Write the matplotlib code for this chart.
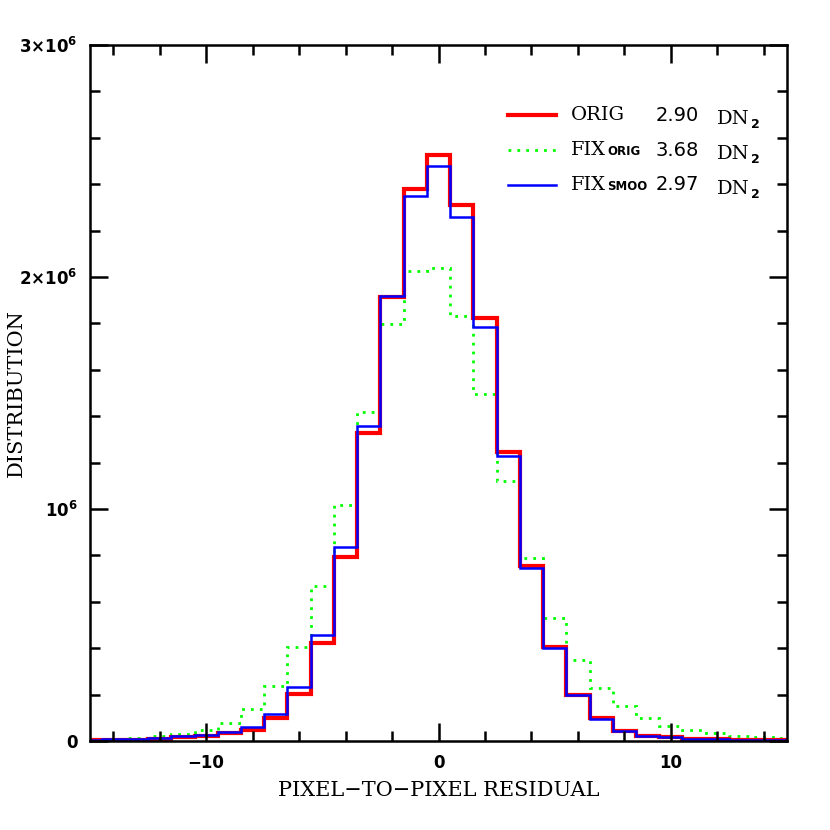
import numpy as np
import matplotlib
matplotlib.use("Agg")
import matplotlib.pyplot as plt
from matplotlib.lines import Line2D
from matplotlib.ticker import MultipleLocator, FixedLocator

# bin centres -15 .. 15 (width 1)
centers = list(range(-15, 16))

orig = [0.003, 0.004, 0.006, 0.010, 0.016, 0.022, 0.033, 0.047, 0.099, 0.203, 0.422, 0.793, 1.328, 1.914, 2.379, 2.526,
        2.310, 1.823, 1.246, 0.754, 0.406, 0.197, 0.098, 0.044, 0.023, 0.016, 0.010, 0.008, 0.006, 0.005, 0.004]
fix_orig = [0.007, 0.010, 0.014, 0.020, 0.030, 0.047, 0.079, 0.138, 0.238, 0.406, 0.668, 1.017, 1.419, 1.796, 2.027, 2.037,
            1.833, 1.494, 1.121, 0.790, 0.531, 0.349, 0.227, 0.151, 0.100, 0.066, 0.047, 0.036, 0.023, 0.016, 0.012]
fix_smoo = [0.005, 0.007, 0.010, 0.015, 0.020, 0.027, 0.037, 0.060, 0.115, 0.231, 0.457, 0.838, 1.359, 1.918, 2.349, 2.478,
            2.257, 1.783, 1.230, 0.747, 0.400, 0.197, 0.096, 0.044, 0.023, 0.016, 0.010, 0.008, 0.006, 0.005, 0.004]

legend_names = ["ORIG", "FIX", "FIX"]
legend_subs = ["", "ORIG", "SMOO"]
legend_vals = ["2.90", "3.68", "2.97"]
colors = ["#ff0000", "#00ff00", "#0000ff"]

scale = 1e6
edges = np.array(centers + [centers[-1] + 1], dtype=float) - 0.5

fig = plt.figure(figsize=(8.3, 8.3), dpi=100)
ax = fig.add_axes([90 / 830, 1 - 741 / 830, 697 / 830, 696 / 830])

ax.stairs(np.array(fix_orig) * scale, edges, color=colors[1], lw=2.0, linestyle=(0, (1, 2.2)))
ax.stairs(np.array(orig) * scale, edges, color=colors[0], lw=3.0)
ax.stairs(np.array(fix_smoo) * scale, edges, color=colors[2], lw=1.8)

ax.set_xlim(-15, 15)
ax.set_ylim(0, 3e6)

ax.xaxis.set_major_locator(FixedLocator([-10, 0, 10]))
ax.xaxis.set_minor_locator(MultipleLocator(2))
ax.yaxis.set_major_locator(FixedLocator([0, 1e6, 2e6, 3e6]))
ax.yaxis.set_minor_locator(MultipleLocator(2e5))
ax.set_xticklabels(["\u221210", "0", "10"])
ax.set_yticklabels(["0", r"$\mathbf{10^6}$", r"$\mathbf{2{\times}10^6}$", r"$\mathbf{3{\times}10^6}$"])

ax.tick_params(which="both", direction="in", top=True, right=True, width=1.8)
ax.tick_params(which="major", length=13)
ax.tick_params(which="minor", length=7)
ax.tick_params(axis="both", which="major", labelsize=12, pad=9)
for lab in ax.get_xticklabels() + ax.get_yticklabels():
    lab.set_fontweight("bold")
for sp in ax.spines.values():
    sp.set_linewidth(1.8)

ax.set_xlabel("PIXEL\u2212TO\u2212PIXEL RESIDUAL", family="DejaVu Serif", fontsize=15)
ax.set_ylabel("DISTRIBUTION", family="DejaVu Serif", fontsize=15)
ax.xaxis.set_label_coords(0.5, -0.058)
ax.yaxis.set_label_coords(-0.092, 0.5)

# legend
row_y = [0.899, 0.849, 0.799]
styles = [dict(lw=3.0), dict(lw=2.0, linestyle=(0, (1, 2.2))), dict(lw=1.8)]
for i in range(3):
    ax.add_line(Line2D([0.600, 0.669], [row_y[i], row_y[i]], transform=ax.transAxes,
                       color=colors[i], **styles[i]))
    t = ax.text(0.690, row_y[i], legend_names[i], transform=ax.transAxes, family="DejaVu Serif",
                fontsize=14, va="center", ha="left")
    if legend_subs[i]:
        ax.annotate(legend_subs[i], xy=(1.0, 0.0), xycoords=t, xytext=(1, 1), textcoords="offset points",
                    fontsize=8.5, fontweight="bold", va="bottom", ha="left")
    ax.text(0.811, row_y[i], legend_vals[i], transform=ax.transAxes, fontsize=14, va="center", ha="left")
    d = ax.text(0.900, row_y[i] - 0.006, "DN", transform=ax.transAxes, family="DejaVu Serif",
                fontsize=14, va="center", ha="left")
    ax.annotate("2", xy=(1.0, 0.0), xycoords=d, xytext=(1, -2), textcoords="offset points",
                fontsize=9, fontweight="bold", va="bottom", ha="left")

fig.savefig("out.png", dpi=100)
